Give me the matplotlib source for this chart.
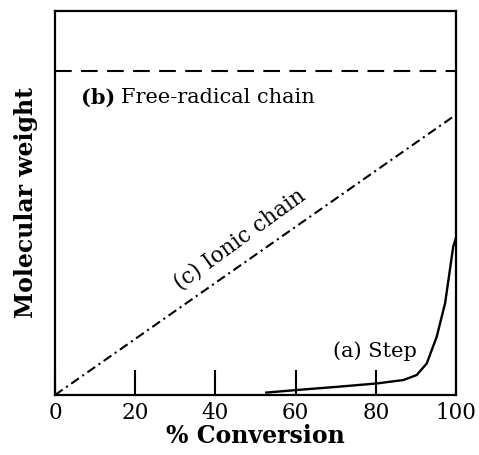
import numpy as np
import matplotlib.pyplot as plt

plt.rcParams['font.family'] = ['DejaVu Serif']

# (a) step polymerization
step_x = [52.4, 60.3, 70.0, 80.2, 86.9, 90.2, 92.7, 95.2, 97.3, 99.3, 100.0]
step_y = [0.6, 1.3, 2.1, 3.0, 3.9, 5.2, 8.2, 15.2, 24.0, 38.6, 41.0]
# (b) free-radical chain
radical_x = [0, 100]
radical_y = [84.4, 84.4]
# (c) ionic chain
ionic_x = [0, 100]
ionic_y = [0, 73.0]

xticks = [0, 20, 40, 60, 80, 100]

fig = plt.figure(figsize=(4.79, 4.55), dpi=100)
ax = fig.add_axes([55/479, (455-395)/455, 401/479, 384/455])

ax.plot(step_x, step_y, color='black', lw=1.7, solid_capstyle='butt')
ax.plot(radical_x, radical_y, color='black', lw=1.5, linestyle=(0, (8, 4.5)))
ax.plot(ionic_x, ionic_y, color='black', lw=1.5, linestyle=(0, (4.5, 2, 1, 2)))

ax.set_xlim(0, 100)
ax.set_ylim(0, 100)
ax.set_xticks(xticks)
ax.set_xticklabels([str(t) for t in xticks], fontsize=15.5)
ax.set_yticks([])
ax.tick_params(axis='x', direction='in', length=18, width=1.5, pad=5)
for s in ax.spines.values():
    s.set_linewidth(1.6)

ax.set_xlabel('% Conversion', fontsize=17, fontweight='bold', labelpad=0)
ax.set_ylabel('Molecular weight', fontsize=17, fontweight='bold', labelpad=12)

t1 = ax.text(6.5, 77.5, '(b)', fontsize=15, fontweight='bold', va='center')
ax.annotate('Free-radical chain', xy=(1, 0.5), xycoords=t1, va='center',
            xytext=(4, 0), textcoords='offset points', fontsize=15)
ax.text(79.7, 11.5, '(a) Step', fontsize=15, ha='center', va='center')
ax.text(46.2, 40.6, '(c) Ionic chain', fontsize=15.5, ha='center', va='center',
        rotation=36, rotation_mode='anchor')

fig.savefig('out.png', dpi=100)
